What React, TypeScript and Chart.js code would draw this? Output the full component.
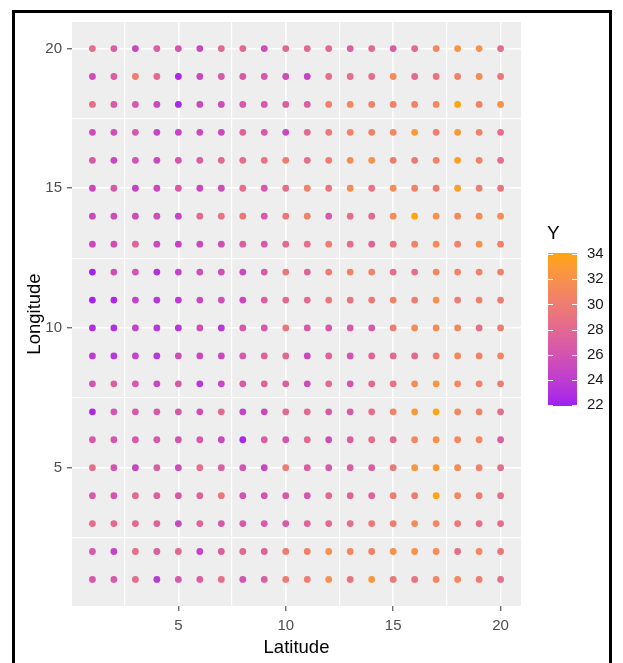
import React, { useEffect, useRef } from "react";
import { Chart, registerables } from "chart.js";
Chart.register(...registerables);

const latitudes = [1, 2, 3, 4, 5, 6, 7, 8, 9, 10, 11, 12, 13, 14, 15, 16, 17, 18, 19, 20];
const longitudes = [20, 19, 18, 17, 16, 15, 14, 13, 12, 11, 10, 9, 8, 7, 6, 5, 4, 3, 2, 1];

const yLon20 = [28.5, 27, 25, 27, 26, 25, 28, 28, 25.5, 28, 28, 28, 27, 28, 27, 28, 31, 32.5, 32, 28.5];
const yLon19 = [25.5, 27, 30, 28, 22.5, 25, 26.5, 26.5, 26.5, 25.5, 24.5, 28.5, 28.5, 28.5, 31.5, 28, 29, 30.5, 31.5, 29.5];
const yLon18 = [28.5, 26.5, 26.5, 25, 22.5, 25, 25.5, 26.5, 26.5, 27, 27, 30.5, 31, 30.5, 30.5, 30.5, 31, 34, 30.5, 32];
const yLon17 = [25.5, 25.5, 26.5, 24.5, 24.5, 25, 25, 27.5, 26.5, 25, 28, 29.5, 30.5, 30.5, 31, 33, 30, 33, 30.5, 28.5];
const yLon16 = [26.5, 25, 26, 25, 26, 27, 28, 28.5, 29, 30, 28.5, 30, 31.5, 32, 30, 29.5, 30.5, 33.5, 30.5, 28.5];
const yLon15 = [25, 26.5, 24.5, 25, 26.5, 25, 25.5, 28.5, 26.5, 28.5, 30.5, 29, 31.5, 29, 31.5, 30.5, 30, 33.5, 30, 29];
const yLon14 = [25, 25.5, 25.5, 25.5, 24.5, 28, 29, 29.5, 26.5, 29.5, 30.5, 26.5, 28.5, 28, 31.5, 34, 32, 31, 31.5, 31.5];
const yLon13 = [25, 25.5, 27.5, 25, 24.5, 25, 25.5, 27, 26.5, 28, 28.5, 30, 28.5, 27.5, 29, 30.5, 31.5, 30.5, 32, 30.5];
const yLon12 = [22, 25.5, 26, 23, 24.5, 25.5, 25.5, 25, 26.5, 29.5, 27.5, 30, 30.5, 30.5, 28.5, 28.5, 31, 30.5, 30.5, 30.5];
const yLon11 = [22, 22.5, 24.5, 23.5, 24, 25, 25.5, 25, 27, 28, 28, 29.5, 29, 29.5, 30.5, 30, 32, 30, 30.5, 30];
const yLon10 = [23, 23, 24.5, 23.5, 23.5, 25.5, 23.5, 26.5, 26.5, 29.5, 26.5, 26.5, 26.5, 26.5, 30, 31.5, 31.5, 31, 28.5, 30];
const yLon9 = [24, 23.5, 24.5, 23.5, 25.5, 25, 25, 26.5, 27.5, 28, 25, 27.5, 26, 27.5, 28, 28, 30, 31, 30.5, 31];
const yLon8 = [26, 27, 26.5, 25, 26.5, 23.5, 25, 26.5, 27.5, 27, 25.5, 28, 26, 28, 29, 31.5, 32.5, 31, 30.5, 30];
const yLon7 = [22.5, 26, 26.5, 26.5, 26.5, 25.5, 28, 24.5, 25, 28, 28, 26.5, 26.5, 28.5, 30.5, 33, 34, 31, 30.5, 28.5];
const yLon6 = [26.5, 26, 26.5, 26.5, 26, 26.5, 25, 22.5, 27, 26, 28, 25.5, 27, 28.5, 28, 31, 32, 31, 31, 27];
const yLon5 = [28.5, 26, 25, 27, 25.5, 28.5, 27, 26, 25, 30, 27, 26.5, 27, 27, 29.5, 32.5, 33, 31.5, 30.5, 28.5];
const yLon4 = [26.5, 26, 28, 27, 26.5, 27.5, 29.5, 26, 26, 26.5, 26, 28, 27.5, 27.5, 30, 30, 34, 31, 30, 28.5];
const yLon3 = [28.5, 28, 28, 27.5, 25, 27.5, 26.5, 26.5, 26.5, 26.5, 27.5, 28, 28.5, 29.5, 30, 31.5, 31, 29.5, 28.5, 28.5];
const yLon2 = [26.5, 24.5, 28.5, 27, 28, 24.5, 27, 28, 27.5, 30, 30.5, 32, 31, 30.5, 32, 32, 31.5, 28.5, 31, 29.5];
const yLon1 = [26.5, 26.5, 28.5, 23.5, 26.5, 27, 28.5, 26, 27, 30, 30, 32, 29, 32.5, 29.5, 29, 31, 31, 30, 28.5];

const yRows = [yLon20, yLon19, yLon18, yLon17, yLon16, yLon15, yLon14, yLon13, yLon12, yLon11,
  yLon10, yLon9, yLon8, yLon7, yLon6, yLon5, yLon4, yLon3, yLon2, yLon1];

const axisTicks = [5, 10, 15, 20];
const gridBreaks = [2.5, 5, 7.5, 10, 12.5, 15, 17.5, 20];
const legendTicks = [22, 24, 26, 28, 30, 32, 34];
const colorMin = 21.9;
const colorMax = 34.1;
const lowColor = [160, 32, 240]; // purple
const highColor = [255, 165, 0]; // orange

const FONT = "'Liberation Sans', Arial, sans-serif";

// ---- Lab interpolation (like ggplot's seq_gradient_pal) ----
function toLin(c: number) { c /= 255; return c <= 0.04045 ? c / 12.92 : Math.pow((c + 0.055) / 1.055, 2.4); }
function fromLin(c: number) {
  const v = c <= 0.0031308 ? 12.92 * c : 1.055 * Math.pow(c, 1 / 2.4) - 0.055;
  return Math.round(Math.max(0, Math.min(1, v)) * 255);
}
const Xn = 0.95047, Yn = 1.0, Zn = 1.08883;
function fLab(t: number) { return t > 0.008856 ? Math.cbrt(t) : 7.787 * t + 16 / 116; }
function fInv(t: number) { return t * t * t > 0.008856 ? t * t * t : (t - 16 / 116) / 7.787; }
function rgbToLab(rgb: number[]) {
  const r = toLin(rgb[0]), g = toLin(rgb[1]), b = toLin(rgb[2]);
  const X = 0.4124564 * r + 0.3575761 * g + 0.1804375 * b;
  const Y = 0.2126729 * r + 0.7151522 * g + 0.072175 * b;
  const Z = 0.0193339 * r + 0.119192 * g + 0.9503041 * b;
  const fx = fLab(X / Xn), fy = fLab(Y / Yn), fz = fLab(Z / Zn);
  return [116 * fy - 16, 500 * (fx - fy), 200 * (fy - fz)];
}
function labToRgb(lab: number[]) {
  const fy = (lab[0] + 16) / 116;
  const fx = fy + lab[1] / 500;
  const fz = fy - lab[2] / 200;
  const X = Xn * fInv(fx), Y = Yn * fInv(fy), Z = Zn * fInv(fz);
  const r = 3.2404542 * X - 1.5371385 * Y - 0.4985314 * Z;
  const g = -0.969266 * X + 1.8760108 * Y + 0.041556 * Z;
  const b = 0.0556434 * X - 0.2040259 * Y + 1.0572252 * Z;
  return [fromLin(r), fromLin(g), fromLin(b)];
}
const lowLab = rgbToLab(lowColor);
const highLab = rgbToLab(highColor);
function colorFor(v: number) {
  const t = Math.max(0, Math.min(1, (v - colorMin) / (colorMax - colorMin)));
  const lab = [0, 1, 2].map((i) => lowLab[i] + (highLab[i] - lowLab[i]) * t);
  const c = labToRgb(lab);
  return `rgb(${c[0]},${c[1]},${c[2]})`;
}

const points: { x: number; y: number; v: number }[] = [];
yRows.forEach((row, ri) => {
  row.forEach((v, ci) => {
    points.push({ x: latitudes[ci], y: longitudes[ri], v });
  });
});

const isMajor = (v: number) => Math.abs(v % 5) < 1e-9;

const panelPlugin = {
  id: "panelBg",
  beforeDraw(chart: any) {
    const { ctx, chartArea: a } = chart;
    ctx.save();
    ctx.fillStyle = "#FFFFFF";
    ctx.fillRect(0, 0, chart.width, chart.height);
    ctx.fillStyle = "#EEEEEE";
    ctx.fillRect(a.left, a.top, a.right - a.left, a.bottom - a.top);
    ctx.restore();
  },
  afterDraw(chart: any) {
    const { ctx } = chart;
    ctx.save();
    // colour bar legend
    const barL = 548, barR = 577, barTop = 253, barBot = 406;
    const yOf = (v: number) => barBot - ((v - colorMin) / (colorMax - colorMin)) * (barBot - barTop);
    for (let y = barTop; y < barBot; y += 1) {
      const v = colorMin + ((barBot - y - 0.5) / (barBot - barTop)) * (colorMax - colorMin);
      ctx.fillStyle = colorFor(v);
      ctx.fillRect(barL, y, barR - barL, 1);
    }
    ctx.strokeStyle = "#FFFFFF";
    ctx.lineWidth = 1;
    ctx.fillStyle = "#1A1A1A";
    ctx.font = `15px ${FONT}`;
    ctx.textAlign = "left";
    ctx.textBaseline = "middle";
    legendTicks.forEach((v) => {
      const y = Math.round(yOf(v)) + 0.5;
      ctx.beginPath();
      ctx.moveTo(barL, y); ctx.lineTo(barL + 5, y);
      ctx.moveTo(barR - 5, y); ctx.lineTo(barR, y);
      ctx.stroke();
      ctx.fillText(String(v), 587, yOf(v));
    });
    ctx.fillStyle = "#000000";
    ctx.font = `19px ${FONT}`;
    ctx.fillText("Y", 547, 234);
    // outer frame
    ctx.strokeStyle = "#000000";
    ctx.lineWidth = 3;
    ctx.strokeRect(13.5, 11.5, 597, 670);
    ctx.restore();
  },
};

function makeScale(title: string, horizontal: boolean) {
  return {
    type: "linear",
    min: 0.05,
    max: 20.95,
    afterBuildTicks: (s: any) => { s.ticks = gridBreaks.map((v) => ({ value: v })); },
    afterFit: (s: any) => {
      if (horizontal) s.height = 57; else s.width = 72;
    },
    ticks: {
      callback: (v: any) => (isMajor(Number(v)) && axisTicks.includes(Number(v)) ? String(v) : ""),
      color: "#4D4D4D",
      font: { family: FONT, size: 15 },
      padding: horizontal ? 6 : 5,
      maxRotation: 0,
      minRotation: 0,
      autoSkip: false,
    },
    grid: {
      color: "#FFFFFF",
      lineWidth: (c: any) => (c.tick && isMajor(c.tick.value) ? 1.6 : 1.2),
      tickLength: 5,
      tickWidth: 1,
      tickColor: (c: any) => (c.tick && isMajor(c.tick.value) ? "#333333" : "rgba(0,0,0,0)"),
    },
    border: { display: false },
    title: {
      display: true,
      text: title,
      color: "#000000",
      font: { family: FONT, size: 18.5 },
      padding: horizontal ? { top: 0, bottom: 4 } : { top: 24, bottom: 0 },
    },
  };
}

export default function App() {
  const ref = useRef<HTMLCanvasElement | null>(null);
  useEffect(() => {
    if (!ref.current) return;
    const chart = new Chart(ref.current, {
      type: "scatter",
      data: {
        datasets: [
          {
            data: points as any,
            pointRadius: 3.4,
            pointHoverRadius: 3.4,
            pointBorderWidth: 0,
            pointBackgroundColor: points.map((p) => colorFor(p.v)),
            pointBorderColor: points.map((p) => colorFor(p.v)),
          },
        ],
      },
      options: {
        responsive: false,
        animation: false,
        devicePixelRatio: 1,
        layout: { padding: { left: 0, right: 102, top: 22, bottom: 0 } },
        plugins: { legend: { display: false }, tooltip: { enabled: false } },
        scales: {
          x: makeScale("Latitude", true) as any,
          y: makeScale("Longitude", false) as any,
        },
      },
      plugins: [panelPlugin],
    });
    return () => chart.destroy();
  }, []);
  return (
    <div style={{ position: "fixed", left: 0, top: 0, width: 623, height: 663, background: "#fff" }}>
      <canvas ref={ref} width={623} height={663} style={{ width: 623, height: 663, display: "block" }} />
    </div>
  );
}
